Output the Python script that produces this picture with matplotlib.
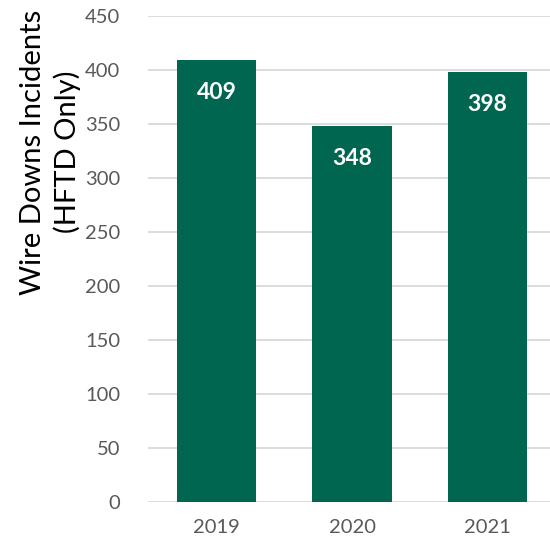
import matplotlib.pyplot as plt

years = ['2019', '2020', '2021']
incidents = [409, 348, 398]

plt.rcParams['font.family'] = ['Lato', 'DejaVu Sans']

fig = plt.figure(figsize=(5.5, 5.47), dpi=100)
ax = fig.add_axes([148 / 550, 45 / 547, 1 - 148 / 550, 486 / 547])

bars = ax.bar(range(len(years)), incidents, width=0.587, color='#00664F', zorder=3)
for rect, val in zip(bars, incidents):
    ax.text(rect.get_x() + rect.get_width() / 2, val - 30, str(val),
            ha='center', va='center', color='white', fontsize=16.5, fontweight='bold')

ax.set_xlim(-0.505, 2.46)
ax.set_ylim(0, 450)
ax.set_yticks(range(0, 451, 50))
ax.set_xticks(range(len(years)))
ax.set_xticklabels(years)
ax.grid(axis='y', color='#D9D9D9', linewidth=1.3, zorder=0)
for s in ax.spines.values():
    s.set_visible(False)
ax.tick_params(length=0, labelsize=14.5, labelcolor='#595959')
ax.tick_params(axis='y', pad=20)
ax.tick_params(axis='x', pad=12)
ax.set_ylabel('Wire Downs Incidents\n(HFTD Only)', fontsize=21, color='black',
              linespacing=1.3)
ax.yaxis.set_label_coords(-0.167, 0.72)

fig.savefig('out.png', dpi=100)
